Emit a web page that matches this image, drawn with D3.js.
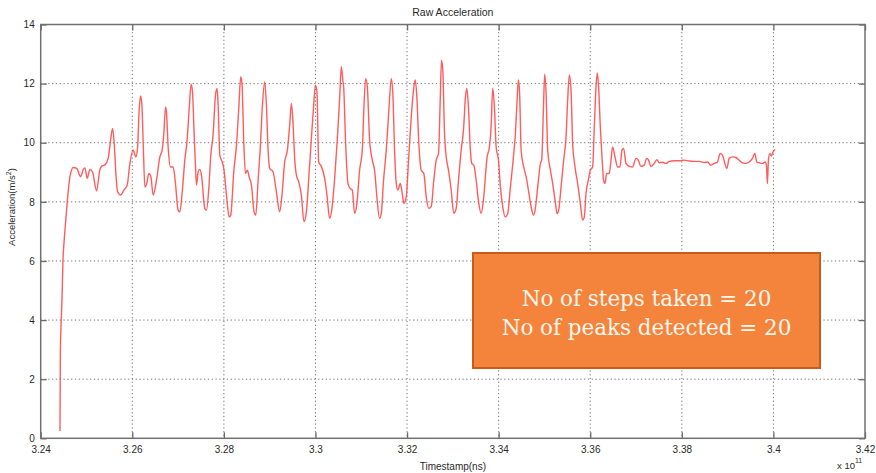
<!DOCTYPE html>
<html>
<head>
<meta charset="utf-8">
<script src="https://cdn.jsdelivr.net/npm/d3@7"></script>
<style>
  body { margin: 0; background: #fff; }
  text { font-family: "Liberation Sans", Arial, sans-serif; fill: #2a2a2a; }
</style>
</head>
<body>
<svg id="chart" width="876" height="473"></svg>
<script>
// Timestamps in units of 10^11 ns, acceleration magnitude in m/s^2
const timestamp = [
  3.24421, 3.24425, 3.24430, 3.24449, 3.24465, 3.24486, 3.24508, 3.24530, 3.24580, 3.24639,
  3.24711, 3.24785, 3.24872, 3.24929, 3.24966, 3.25016, 3.25075, 3.25134, 3.25221, 3.25293,
  3.25330, 3.25402, 3.25474, 3.25527, 3.25570, 3.25605, 3.25642, 3.25679, 3.25745, 3.25817,
  3.25889, 3.25948, 3.26020, 3.26078, 3.26116, 3.26150, 3.26181, 3.26209, 3.26238, 3.26275,
  3.26312, 3.26362, 3.26406, 3.26456, 3.26530, 3.26602, 3.26652, 3.26689, 3.26726, 3.26748,
  3.26783, 3.26835, 3.26892, 3.26936, 3.27001, 3.27038, 3.27088, 3.27147, 3.27197, 3.27241,
  3.27285, 3.27315, 3.27350, 3.27381, 3.27402, 3.27437, 3.27474, 3.27511, 3.27583, 3.27620,
  3.27671, 3.27714, 3.27764, 3.27817, 3.27852, 3.27873, 3.27911, 3.27948, 3.27998, 3.28057,
  3.28113, 3.28150, 3.28216, 3.28275, 3.28325, 3.28369, 3.28397, 3.28434, 3.28471, 3.28515,
  3.28550, 3.28602, 3.28659, 3.28696, 3.28746, 3.28798, 3.28842, 3.28892, 3.28929, 3.28964,
  3.29001, 3.29073, 3.29147, 3.29219, 3.29269, 3.29328, 3.29387, 3.29437, 3.29474, 3.29509,
  3.29546, 3.29583, 3.29634, 3.29692, 3.29749, 3.29801, 3.29858, 3.29911, 3.29961, 3.29998,
  3.30033, 3.30070, 3.30129, 3.30201, 3.30251, 3.30310, 3.30360, 3.30419, 3.30478, 3.30528,
  3.30565, 3.30600, 3.30615, 3.30659, 3.30709, 3.30761, 3.30805, 3.30855, 3.30905, 3.30964,
  3.31023, 3.31051, 3.31095, 3.31132, 3.31182, 3.31241, 3.31291, 3.31341, 3.31400, 3.31437,
  3.31487, 3.31546, 3.31603, 3.31655, 3.31690, 3.31727, 3.31764, 3.31799, 3.31852, 3.31895,
  3.31930, 3.31982, 3.32033, 3.32092, 3.32142, 3.32179, 3.32214, 3.32257, 3.32310, 3.32366,
  3.32419, 3.32475, 3.32528, 3.32584, 3.32637, 3.32687, 3.32724, 3.32752, 3.32781, 3.32818,
  3.32855, 3.32905, 3.32964, 3.33021, 3.33073, 3.33123, 3.33182, 3.33232, 3.33276, 3.33304,
  3.33341, 3.33378, 3.33413, 3.33457, 3.33509, 3.33566, 3.33618, 3.33668, 3.33749, 3.33799,
  3.33836, 3.33871, 3.33908, 3.33945, 3.33996, 3.34039, 3.34089, 3.34142, 3.34198, 3.34257,
  3.34323, 3.34366, 3.34403, 3.34432, 3.34460, 3.34491, 3.34547, 3.34600, 3.34650, 3.34709,
  3.34759, 3.34796, 3.34853, 3.34912, 3.34940, 3.34977, 3.35005, 3.35036, 3.35071, 3.35130,
  3.35180, 3.35232, 3.35276, 3.35311, 3.35363, 3.35420, 3.35472, 3.35507, 3.35544, 3.35581,
  3.35616, 3.35668, 3.35725, 3.35784, 3.35834, 3.35871, 3.35908, 3.35958, 3.36002, 3.36052,
  3.36089, 3.36126, 3.36155, 3.36183, 3.36220, 3.36257, 3.36292, 3.36323, 3.36358, 3.36416,
  3.36454, 3.36488, 3.36541, 3.36598, 3.36650, 3.36693, 3.36728, 3.36781, 3.36853, 3.36925,
  3.36999, 3.37049, 3.37108, 3.37180, 3.37230, 3.37274, 3.37326, 3.37398, 3.37457, 3.37507,
  3.37579, 3.37653, 3.37725, 3.37834, 3.37943, 3.38052, 3.38161, 3.38270, 3.38379, 3.38488,
  3.38560, 3.38635, 3.38707, 3.38779, 3.38837, 3.38888, 3.38940, 3.38984, 3.39034, 3.39106,
  3.39180, 3.39252, 3.39324, 3.39398, 3.39470, 3.39542, 3.39594, 3.39638, 3.39688, 3.39760,
  3.39819, 3.39847, 3.39869, 3.39891, 3.39921, 3.39956, 3.39993, 3.40037
];
const accel = [
  0.25, 1.5, 3.0, 4.0, 4.7, 6.0, 6.6, 7.04, 8.0, 8.85,
  9.16, 9.13, 8.85, 9.1, 9.15, 8.8, 9.1, 9.0, 8.37, 9.1,
  9.2, 9.25, 9.47, 10.1, 10.48, 9.98, 8.96, 8.34, 8.23, 8.4,
  8.57, 9.3, 9.75, 9.52, 9.86, 11.1, 11.58, 11.3, 10.0, 8.5,
  8.6, 8.96, 8.85, 8.23, 8.75, 9.52, 9.75, 10.31, 11.21, 11.0,
  9.86, 9.18, 9.18, 8.73, 7.72, 7.66, 8.29, 9.41, 10.09, 11.1,
  11.98, 11.7, 10.31, 9.18, 8.57, 9.0, 9.1, 8.9, 7.78, 7.72,
  8.45, 9.58, 10.26, 11.61, 11.84, 11.35, 9.58, 9.41, 9.13, 8.23,
  7.49, 7.55, 9.02, 9.92, 11.16, 12.23, 11.95, 10.03, 8.96, 9.07,
  8.85, 8.57, 7.66, 7.55, 8.68, 9.92, 11.27, 12.06, 11.27, 9.81,
  9.13, 9.02, 8.34, 7.66, 8.23, 9.35, 9.75, 10.6, 11.33, 10.7,
  9.47, 8.9, 8.68, 8.23, 7.33, 7.66, 8.9, 10.15, 11.27, 11.95,
  11.72, 9.35, 9.2, 8.79, 8.23, 7.44, 7.78, 8.79, 10.15, 11.5,
  12.57, 12.08, 11.9, 9.98, 8.62, 8.45, 8.4, 7.61, 7.95, 9.07,
  9.75, 10.9, 12.17, 11.9, 10.09, 9.41, 9.07, 8.17, 7.44, 7.6,
  8.73, 9.75, 11.1, 12.17, 11.66, 9.75, 8.62, 8.4, 8.62, 8.29,
  7.95, 8.17, 9.41, 10.88, 11.78, 12.12, 11.55, 9.98, 9.07, 8.96,
  8.17, 7.78, 7.84, 8.73, 9.41, 9.64, 11.44, 12.79, 12.45, 10.31,
  9.52, 9.07, 8.4, 7.61, 7.78, 8.73, 9.75, 10.43, 11.55, 11.84,
  11.2, 9.86, 9.3, 9.24, 8.73, 7.95, 7.61, 8.06, 9.52, 9.86,
  10.54, 11.84, 11.2, 9.86, 9.41, 8.5, 7.84, 7.49, 7.6, 8.5,
  9.52, 10.31, 11.44, 12.12, 11.57, 9.75, 9.18, 8.85, 8.4, 7.84,
  7.55, 7.72, 8.5, 9.3, 9.41, 11.1, 12.32, 11.66, 9.75, 9.07,
  8.62, 8.06, 7.6, 7.72, 8.5, 9.41, 10.2, 11.44, 12.29, 11.78,
  9.98, 9.18, 8.62, 7.95, 7.38, 7.49, 8.29, 8.73, 9.07, 9.18,
  10.54, 11.89, 12.36, 11.89, 10.54, 9.52, 8.73, 8.62, 8.96, 8.96,
  9.41, 9.86, 9.52, 9.18, 9.18, 9.75, 9.81, 9.3, 9.2, 9.18,
  9.47, 9.41, 9.2, 9.24, 9.47, 9.41, 9.2, 9.3, 9.43, 9.32,
  9.34, 9.3, 9.37, 9.39, 9.39, 9.41, 9.38, 9.37, 9.37, 9.33,
  9.35, 9.24, 9.3, 9.35, 9.64, 9.58, 9.3, 9.13, 9.47, 9.52,
  9.5, 9.41, 9.32, 9.3, 9.35, 9.47, 9.64, 9.35, 9.32, 9.3,
  9.35, 9.24, 8.62, 9.41, 9.64, 9.55, 9.69, 9.77
];
const xTicks = [3.24, 3.26, 3.28, 3.30, 3.32, 3.34, 3.36, 3.38, 3.40, 3.42];
const yTicks = [0, 2, 4, 6, 8, 10, 12, 14];
const titleText = "Raw Acceleration";
const xLabelText = "Timestamp(ns)";
const summaryLines = ["No of steps taken = 20", "No of peaks detected = 20"];

const svg = d3.select("#chart");
const plot = { left: 40.7, right: 865, top: 24.5, bottom: 438.3 };

const x = d3.scaleLinear().domain([3.24, 3.42]).range([plot.left, plot.right]);
const y = d3.scaleLinear().domain([0, 14]).range([plot.bottom, plot.top]);

const fmt = d => String(+d.toFixed(2));

// dotted grid
const grid = svg.append("g");
grid.selectAll("line.vx").data(xTicks.slice(1, -1)).join("line")
  .attr("x1", d => x(d)).attr("x2", d => x(d))
  .attr("y1", plot.top).attr("y2", plot.bottom)
  .attr("stroke", "#6e6e6e").attr("stroke-width", 1).attr("stroke-dasharray", "1.2,2.6");
grid.selectAll("line.hy").data(yTicks.slice(1, -1)).join("line")
  .attr("x1", plot.left).attr("x2", plot.right)
  .attr("y1", d => y(d)).attr("y2", d => y(d))
  .attr("stroke", "#6e6e6e").attr("stroke-width", 1).attr("stroke-dasharray", "1.2,2.6");

// axes with inward ticks on all four sides
function styleAxis(g) {
  g.select(".domain").remove();
  g.selectAll(".tick line").attr("stroke", "#6a6a6a").attr("stroke-width", 1.3);
  g.selectAll(".tick text").attr("font-size", 10).attr("fill", "#2a2a2a")
    .attr("font-family", "'Liberation Sans', Arial, sans-serif");
}
svg.append("g").attr("transform", `translate(0,${plot.bottom})`)
  .call(d3.axisBottom(x).tickValues(xTicks).tickFormat(fmt).tickSizeInner(-6).tickSizeOuter(0).tickPadding(8))
  .call(styleAxis);
svg.append("g").attr("transform", `translate(0,${plot.top})`)
  .call(d3.axisTop(x).tickValues(xTicks).tickFormat("").tickSizeInner(-6).tickSizeOuter(0))
  .call(styleAxis);
svg.append("g").attr("transform", `translate(${plot.left},0)`)
  .call(d3.axisLeft(y).tickValues(yTicks).tickFormat(fmt).tickSizeInner(-6).tickSizeOuter(0).tickPadding(6))
  .call(styleAxis);
svg.append("g").attr("transform", `translate(${plot.right},0)`)
  .call(d3.axisRight(y).tickValues(yTicks).tickFormat("").tickSizeInner(-6).tickSizeOuter(0))
  .call(styleAxis);

// axes box
svg.append("rect")
  .attr("x", plot.left).attr("y", plot.top)
  .attr("width", plot.right - plot.left).attr("height", plot.bottom - plot.top)
  .attr("fill", "none").attr("stroke", "#707070").attr("stroke-width", 1.5);

// acceleration trace
const series = timestamp.map((t, i) => [t, accel[i]]);
svg.append("path")
  .datum(series)
  .attr("fill", "none")
  .attr("stroke", "#ff4a4a")
  .attr("stroke-width", 1.4)
  .attr("stroke-opacity", 0.9)
  .attr("stroke-linejoin", "round")
  .attr("d", d3.line().x(d => x(d[0])).y(d => y(d[1])).curve(d3.curveMonotoneX));

// titles
svg.append("text").attr("x", (plot.left + plot.right) / 2).attr("y", 16)
  .attr("text-anchor", "middle").attr("font-size", 10.5).text(titleText);
svg.append("text").attr("x", (plot.left + plot.right) / 2).attr("y", 470)
  .attr("text-anchor", "middle").attr("font-size", 10).text(xLabelText);

const yl = svg.append("text")
  .attr("transform", "translate(15,207) rotate(-90)")
  .attr("text-anchor", "middle").attr("font-size", 9.5);
yl.append("tspan").text("Acceleration(m/s");
yl.append("tspan").attr("dy", -4).attr("font-size", 7).text("2");
yl.append("tspan").attr("dy", 4).text(")");

// exponent note
const ex = svg.append("text").attr("x", 837).attr("y", 469).attr("font-size", 9.5);
ex.append("tspan").text("x 10");
ex.append("tspan").attr("dy", -6).attr("font-size", 7).text("11");

// summary box
const box = { x: 473, y: 253, w: 347, h: 115 };
svg.append("rect")
  .attr("x", box.x).attr("y", box.y).attr("width", box.w).attr("height", box.h)
  .attr("fill", "#f4843c").attr("stroke", "#c65b1d").attr("stroke-width", 2);
const lines = svg.append("g");
const baselines = [306, 335];
summaryLines.forEach((s, i) => {
  lines.append("text")
    .attr("x", box.x + box.w / 2).attr("y", baselines[i])
    .attr("text-anchor", "middle")
    .style("font-family", "'DejaVu Serif', 'Liberation Serif', serif")
    .style("fill", "#fff6ee")
    .attr("font-size", 22)
    .text(s);
});
// fit second line to its target width
const t2 = lines.selectAll("text").nodes()[1];
const w2 = t2.getComputedTextLength();
const fs = 22 * 290 / w2;
lines.selectAll("text").attr("font-size", fs);
</script>
</body>
</html>
